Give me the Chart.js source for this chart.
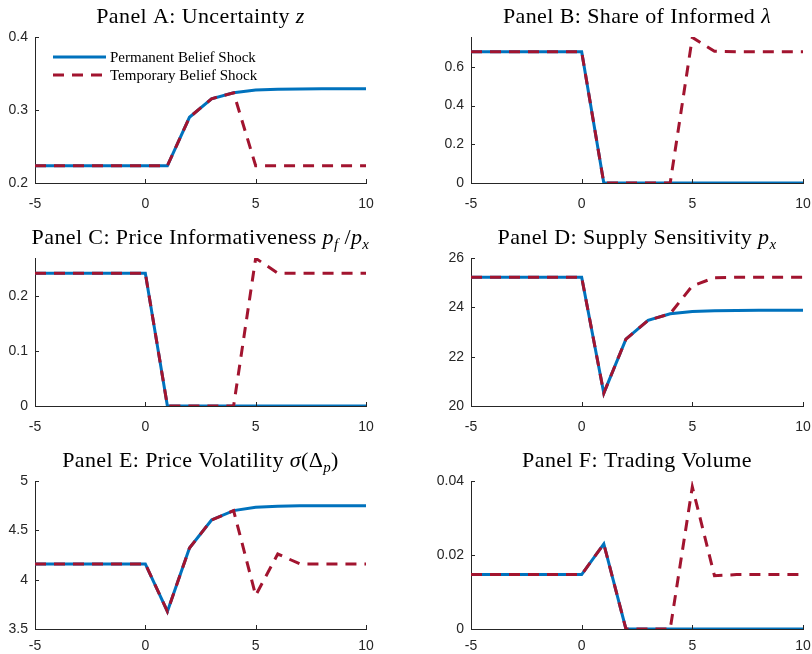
<!DOCTYPE html>
<html><head><meta charset="utf-8">
<script src="https://cdn.jsdelivr.net/npm/chart.js@4.4.0/dist/chart.umd.min.js"></script>
<style>
html,body{margin:0;padding:0;background:#fff;}
body{width:812px;height:654px;position:relative;overflow:hidden;}
canvas{position:absolute;}
</style></head><body>
<canvas id="cA"></canvas><canvas id="cB"></canvas><canvas id="cC"></canvas>
<canvas id="cD"></canvas><canvas id="cE"></canvas><canvas id="cF"></canvas>
<script>
// ---- data ----
const periods = [-5,-4,-3,-2,-1,0,1,2,3,4,5,6,7,8,9,10];
const xTicks = [-5,0,5,10];
const xTickLabels = ['-5','0','5','10'];
const seriesNames = ['Permanent Belief Shock','Temporary Belief Shock'];

// titles as text runs: n = normal, i = italic, s = italic subscript
const titleA = [['Panel A: Uncertainty ','n'],['z','i']];
const titleB = [['Panel B: Share of Informed ','n'],['λ','i']];
const titleC = [['Panel C: Price Informativeness ','n'],['p','i'],['f','s'],[' /','n'],['p','i'],['x','s']];
const titleD = [['Panel D: Supply Sensitivity ','n'],['p','i'],['x','s']];
const titleE = [['Panel E: Price Volatility ','n'],['σ','i'],['(Δ','n'],['p','s'],[')','n']];
const titleF = [['Panel F: Trading Volume','n']];

const uncPerm = [0.2236,0.2236,0.2236,0.2236,0.2236,0.2236,0.2236,0.290,0.3154,0.3236,0.3273,0.3285,0.3289,0.3290,0.3290,0.3290];
const uncTemp = [0.2236,0.2236,0.2236,0.2236,0.2236,0.2236,0.2236,0.290,0.3154,0.3236,0.2236,0.2236,0.2236,0.2236,0.2236,0.2236];
const yTicksA = [0.2,0.3,0.4], yLabelsA = ['0.2','0.3','0.4'], yRangeA = [0.2,0.4];

const infPerm = [0.678,0.678,0.678,0.678,0.678,0.678,0,0,0,0,0,0,0,0,0,0];
const infTemp = [0.678,0.678,0.678,0.678,0.678,0.678,0,0,0,0,0.752,0.680,0.678,0.678,0.678,0.678];
const yTicksB = [0,0.2,0.4,0.6], yLabelsB = ['0','0.2','0.4','0.6'], yRangeB = [0,0.754];

const piPerm = [0.241,0.241,0.241,0.241,0.241,0.241,0,0,0,0,0,0,0,0,0,0];
const piTemp = [0.241,0.241,0.241,0.241,0.241,0.241,0,0,0,0,0.268,0.241,0.241,0.241,0.241,0.241];
const yTicksC = [0,0.1,0.2], yLabelsC = ['0','0.1','0.2'], yRangeC = [0,0.2685];

const pxPerm = [25.22,25.22,25.22,25.22,25.22,25.22,20.52,22.71,23.47,23.74,23.83,23.86,23.87,23.88,23.88,23.88];
const pxTemp = [25.22,25.22,25.22,25.22,25.22,25.22,20.52,22.71,23.47,23.74,24.87,25.20,25.22,25.22,25.22,25.22];
const yTicksD = [20,22,24,26], yLabelsD = ['20','22','24','26'], yRangeD = [20,26];

const volPerm = [4.16,4.16,4.16,4.16,4.16,4.16,3.678,4.32,4.605,4.70,4.735,4.745,4.748,4.75,4.75,4.75];
const volTemp = [4.16,4.16,4.16,4.16,4.16,4.16,3.678,4.32,4.605,4.70,3.84,4.26,4.16,4.16,4.16,4.16];
const yTicksE = [3.5,4,4.5,5], yLabelsE = ['3.5','4','4.5','5'], yRangeE = [3.5,5];

const tvPerm = [0.0147,0.0147,0.0147,0.0147,0.0147,0.0147,0.023,0,0,0,0,0,0,0,0,0];
const tvTemp = [0.0147,0.0147,0.0147,0.0147,0.0147,0.0147,0.023,0,0,0,0.0384,0.0144,0.0147,0.0147,0.0147,0.0147];
const yTicksF = [0,0.02,0.04], yLabelsF = ['0','0.02','0.04'], yRangeF = [0,0.04];

// ---- styling / layout ----
const BLUE = '#0072BD', RED = '#A2142F', AX = '#262626';
const SANS = '"Liberation Sans", Arial, sans-serif';
const SERIF = '"Liberation Serif", "Times New Roman", serif';
const XH = 29, TOP = 37;

const innerTicks = {
  id: 'innerTicks',
  afterDatasetsDraw(chart) {
    const ctx = chart.ctx, a = chart.chartArea, xs = chart.scales.x, ys = chart.scales.y;
    ctx.save(); ctx.strokeStyle = AX; ctx.lineWidth = 1; ctx.beginPath();
    xs.ticks.forEach(t => { const p = Math.round(xs.getPixelForValue(t.value)) + 0.5; ctx.moveTo(p, a.bottom); ctx.lineTo(p, a.bottom - 4); });
    ys.ticks.forEach(t => { const p = Math.round(ys.getPixelForValue(t.value)) + 0.5; ctx.moveTo(a.left, p); ctx.lineTo(a.left + 4, p); });
    ctx.stroke(); ctx.restore();
  }
};

const innerLegend = {
  id: 'innerLegend',
  afterDatasetsDraw(chart, args, opts) {
    if (!opts || !opts.show) return;
    const ctx = chart.ctx, a = chart.chartArea;
    const ds = chart.data.datasets.slice().sort((p, q) => q.order - p.order);
    ctx.save();
    ds.forEach((d, i) => {
      const y = a.top + 20 + i * 18;
      ctx.strokeStyle = d.borderColor; ctx.lineWidth = 3;
      ctx.setLineDash(d.borderDash || []);
      ctx.beginPath(); ctx.moveTo(a.left + 18, y); ctx.lineTo(a.left + 71, y); ctx.stroke();
      ctx.setLineDash([]);
      ctx.fillStyle = '#000'; ctx.font = '15px ' + SERIF; ctx.textBaseline = 'alphabetic';
      ctx.fillText(d.label, a.left + 75, y + 5);
    });
    ctx.restore();
  }
};

const runTitle = {
  id: 'runTitle',
  afterDraw(chart, args, opts) {
    if (!opts || !opts.runs) return;
    const ctx = chart.ctx, a = chart.chartArea;
    const fontOf = s => s === 'n' ? '22px ' + SERIF : s === 'i' ? 'italic 22px ' + SERIF : 'italic 15px ' + SERIF;
    ctx.save();
    if ('letterSpacing' in ctx) ctx.letterSpacing = '0.4px';
    let w = 0;
    opts.runs.forEach(r => { ctx.font = fontOf(r[1]); w += ctx.measureText(r[0]).width; });
    let x = (a.left + a.right) / 2 - w / 2;
    const base = a.top - 14.5;
    ctx.fillStyle = '#000'; ctx.textBaseline = 'alphabetic'; ctx.textAlign = 'left';
    opts.runs.forEach(r => {
      ctx.font = fontOf(r[1]);
      ctx.fillText(r[0], x, r[1] === 's' ? base + 5 : base);
      x += ctx.measureText(r[0]).width;
    });
    ctx.restore();
  }
};

function makePanel(id, left, chartTop, chartH, yWidth, padR, xPad, title, perm, temp, yTicks, yLabels, yRange, legend) {
  const cv = document.getElementById(id);
  const H = TOP + chartH + XH;
  cv.width = 406; cv.height = H;
  cv.style.left = left + 'px'; cv.style.top = (chartTop - TOP) + 'px';
  new Chart(cv, {
    type: 'line',
    data: { datasets: [
      { label: seriesNames[1], data: temp.map((v, i) => ({x: periods[i], y: v})), borderColor: RED, borderWidth: 3,
        borderDash: [11, 8], pointRadius: 0, fill: false, tension: 0, order: 1 },
      { label: seriesNames[0], data: perm.map((v, i) => ({x: periods[i], y: v})), borderColor: BLUE, borderWidth: 3,
        pointRadius: 0, fill: false, tension: 0, order: 2 }
    ]},
    options: {
      responsive: false, animation: false, devicePixelRatio: 1,
      layout: { padding: { top: TOP, right: padR, left: 0, bottom: 0 } },
      plugins: { legend: { display: false }, title: { display: false }, tooltip: { enabled: false },
        innerLegend: { show: legend }, runTitle: { runs: title } },
      scales: {
        x: { type: 'linear', min: -5, max: 10,
          afterBuildTicks: s => { s.ticks = xTicks.map(v => ({value: v})); },
          afterFit: s => { s.height = XH; s.paddingLeft = 0; s.paddingRight = 0; },
          ticks: { callback: v => xTickLabels[xTicks.indexOf(v)], font: { family: SANS, size: 14 }, color: AX, padding: xPad, maxRotation: 0, autoSkip: false },
          grid: { drawOnChartArea: false, drawTicks: false },
          border: { display: true, color: AX, width: 1 } },
        y: { type: 'linear', min: yRange[0], max: yRange[1],
          afterBuildTicks: s => { s.ticks = yTicks.map(v => ({value: v})); },
          afterFit: s => { s.width = yWidth; s.paddingTop = 0; s.paddingBottom = 0; },
          ticks: { callback: v => yLabels[yTicks.indexOf(v)], font: { family: SANS, size: 14 }, color: AX, padding: 7, autoSkip: false },
          grid: { drawOnChartArea: false, drawTicks: false },
          border: { display: true, color: AX, width: 1 } }
      }
    },
    plugins: [innerTicks, innerLegend, runTitle]
  });
}

makePanel('cA', 0, 37, 146, 35, 40, 13, titleA, uncPerm, uncTemp, yTicksA, yLabelsA, yRangeA, true);
makePanel('cB', 406, 37, 146, 65, 9, 13, titleB, infPerm, infTemp, yTicksB, yLabelsB, yRangeB, false);
makePanel('cC', 0, 258, 148, 35, 40, 13, titleC, piPerm, piTemp, yTicksC, yLabelsC, yRangeC, false);
makePanel('cD', 406, 258, 148, 65, 9, 13, titleD, pxPerm, pxTemp, yTicksD, yLabelsD, yRangeD, false);
makePanel('cE', 0, 481, 148, 35, 40, 9, titleE, volPerm, volTemp, yTicksE, yLabelsE, yRangeE, false);
makePanel('cF', 406, 481, 148, 65, 9, 9, titleF, tvPerm, tvTemp, yTicksF, yLabelsF, yRangeF, false);
</script>
</body></html>
